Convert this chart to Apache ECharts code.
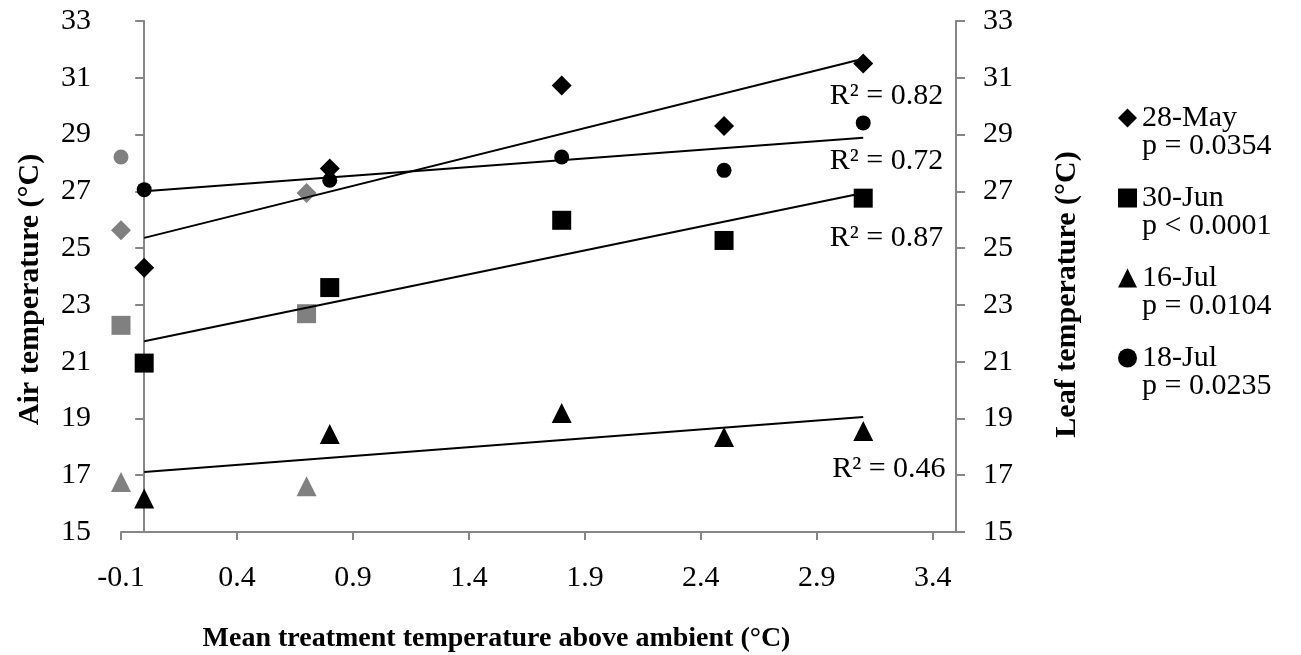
<!DOCTYPE html>
<html><head><meta charset="utf-8">
<script src="https://cdn.jsdelivr.net/npm/echarts@6/dist/echarts.min.js"></script>
<style>html,body{margin:0;padding:0;background:#fff}#c{width:1301px;height:655px}</style>
</head><body><div id="c"></div>
<script>
// ---- data ----
const xTicks = [-0.1, 0.4, 0.9, 1.4, 1.9, 2.4, 2.9, 3.4];
const yTicks = [15, 17, 19, 21, 23, 25, 27, 29, 31, 33];
const dates = ['28-May', '30-Jun', '16-Jul', '18-Jul'];
const pValues = ['p = 0.0354', 'p < 0.0001', 'p = 0.0104', 'p = 0.0235'];
const rSquared = ['R² = 0.82', 'R² = 0.87', 'R² = 0.46', 'R² = 0.72'];

// treatment points (black)
const may28 = [[0, 24.31], [0.8, 27.8], [1.8, 30.73], [2.5, 29.3], [3.1, 31.5]];
const jun30 = [[0, 20.95], [0.8, 23.61], [1.8, 25.98], [2.5, 25.27], [3.1, 26.76]];
const jul16 = [[0, 16.18], [0.8, 18.45], [1.8, 19.19], [2.5, 18.35], [3.1, 18.56]];
const jul18 = [[0, 27.06], [0.8, 27.39], [1.8, 28.21], [2.5, 27.74], [3.1, 29.41]];

// reference points (grey)
const may28Grey = [[-0.1, 25.63], [0.7, 26.94]];
const jun30Grey = [[-0.1, 22.28], [0.7, 22.69]];
const jul16Grey = [[-0.1, 16.76], [0.7, 16.61]];
const jul18Grey = [[-0.1, 28.21]];

// trend lines (end points)
const may28Trend = [[0, 25.36], [3.1, 31.67]];
const jun30Trend = [[0, 21.72], [3.1, 26.94]];
const jul16Trend = [[0, 17.11], [3.1, 19.05]];
const jul18Trend = [[0, 27.0], [3.1, 28.89]];

// R² label anchors (right edge, vertical centre) in data units
const rAnchors = [[3.445, 30.35], [3.445, 25.35], [3.455, 17.22], [3.445, 28.05]];

// ---- chart ----
const FONT = 'Liberation Serif, "Times New Roman", serif';
const AXIS_COLOR = '#868686';
const GREY = '#808080';
const symbols = ['diamond', 'rect', 'triangle', 'circle'];
const sizes = [20, 19, 20, 15];
const black = [may28, jun30, jul16, jul18];
const grey = [may28Grey, jun30Grey, jul16Grey, jul18Grey];
const trends = [may28Trend, jun30Trend, jul16Trend, jul18Trend];

const series = [];
grey.forEach((d, i) => series.push({
  name: dates[i] + ' ref', type: 'scatter', data: d, symbol: symbols[i], symbolSize: sizes[i],
  itemStyle: { color: GREY, opacity: 1 }, silent: true, z: 2
}));
black.forEach((d, i) => series.push({
  name: dates[i], type: 'scatter', data: d, symbol: symbols[i], symbolSize: sizes[i],
  itemStyle: { color: '#000', opacity: 1 }, silent: true, z: 3
}));
trends.forEach((d, i) => series.push({
  name: dates[i] + ' trend', type: 'line', data: d, symbol: 'none',
  lineStyle: { color: '#000', width: 2 }, silent: true, z: 4, animation: false
}));

const chart = echarts.init(document.getElementById('c'), null, { renderer: 'canvas' });
const option = {
  animation: false,
  backgroundColor: '#fff',
  textStyle: { fontFamily: FONT },
  grid: { left: 121, right: 345, top: 21, bottom: 123, containLabel: false, outerBoundsMode: 'none' },
  legend: {
    data: dates.map((n, i) => ({ name: n, icon: symbols[i] })),
    orient: 'vertical', left: 1113, top: 98, itemWidth: 19, itemHeight: 19, itemGap: 50,
    textStyle: { fontFamily: FONT, fontSize: 30, color: '#000', lineHeight: 30 },
    itemStyle: { color: '#000' }, selectedMode: false
  },
  xAxis: {
    type: 'value', min: -0.1, max: 3.5,
    axisLine: { show: true, onZero: false, lineStyle: { color: AXIS_COLOR, width: 2 } },
    axisTick: { show: true, length: 8, inside: false, customValues: xTicks, lineStyle: { color: AXIS_COLOR, width: 2 } },
    axisLabel: { customValues: xTicks, margin: 31, fontSize: 30, color: '#000', fontFamily: FONT,
      formatter: v => v.toFixed(1) },
    splitLine: { show: false },
    name: 'Mean treatment temperature above ambient (°C)', nameLocation: 'middle', nameGap: 93,
    nameTextStyle: { fontSize: 28, fontWeight: 'bold', color: '#000', fontFamily: FONT, padding: [0, 84, 0, 0] }
  },
  yAxis: [{
    type: 'value', min: 15, max: 33, position: 'left',
    axisLine: { show: true, onZero: true, onZeroAxisIndex: 0, lineStyle: { color: AXIS_COLOR, width: 2 } },
    axisTick: { show: true, length: 9, inside: false, customValues: yTicks, lineStyle: { color: AXIS_COLOR, width: 2 } },
    axisLabel: { customValues: yTicks, margin: 30, fontSize: 30, color: '#000', fontFamily: FONT },
    splitLine: { show: false },
    name: 'Air temperature (°C)', nameLocation: 'middle', nameGap: 76, nameRotate: 90,
    nameTextStyle: { fontSize: 30, fontWeight: 'bold', color: '#000', fontFamily: FONT, padding: [0, 26, 0, 0] }
  }, {
    type: 'value', min: 15, max: 33, position: 'right',
    axisLine: { show: true, onZero: false, lineStyle: { color: AXIS_COLOR, width: 2 } },
    axisTick: { show: true, length: 9, inside: false, customValues: yTicks, lineStyle: { color: AXIS_COLOR, width: 2 } },
    axisLabel: { customValues: yTicks, margin: 27, fontSize: 30, color: '#000', fontFamily: FONT },
    splitLine: { show: false },
    name: 'Leaf temperature (°C)', nameLocation: 'middle', nameGap: 96, nameRotate: 90,
    nameTextStyle: { fontSize: 30, fontWeight: 'bold', color: '#000', fontFamily: FONT, padding: [0, 36, 0, 0] }
  }],
  series: series
};
chart.setOption(option);

// text annotations: R² labels anchored in data space, p-values under legend entries
const graphics = [];
rAnchors.forEach((a, i) => {
  const p = chart.convertToPixel({ gridIndex: 0 }, a);
  graphics.push({ type: 'text', x: p[0], y: p[1], silent: true,
    style: { text: rSquared[i], font: '30px ' + FONT, fill: '#000', align: 'right', verticalAlign: 'middle' } });
});
pValues.forEach((t, i) => {
  graphics.push({ type: 'text', x: 1142, y: 146 + i * 80, silent: true,
    style: { text: t, font: '30px ' + FONT, fill: '#000', align: 'left', verticalAlign: 'middle' } });
});
chart.setOption({ graphic: graphics });
</script>
</body></html>
